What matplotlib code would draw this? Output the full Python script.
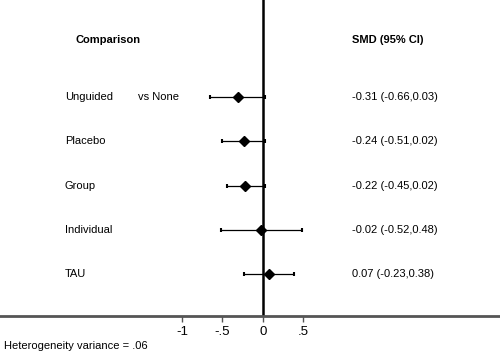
import matplotlib
matplotlib.use("Agg")
import matplotlib.pyplot as plt

comparisons = ["Unguided", "Placebo", "Group", "Individual", "TAU"]
smd = [-0.31, -0.24, -0.22, -0.02, 0.07]
ci_low = [-0.66, -0.51, -0.45, -0.52, -0.23]
ci_high = [0.03, 0.02, 0.02, 0.48, 0.38]
ci_labels = ["-0.31 (-0.66,0.03)", "-0.24 (-0.51,0.02)", "-0.22 (-0.45,0.02)",
             "-0.02 (-0.52,0.48)", "0.07 (-0.23,0.38)"]
xticks = [-1, -0.5, 0, 0.5]
xticklabels = ["-1", "-.5", "0", ".5"]

plt.rcParams['font.family'] = ['Liberation Sans', 'DejaVu Sans']

fig = plt.figure(figsize=(5, 3.55), dpi=100)
ax = fig.add_axes([0, (355 - 316) / 355, 1, 316 / 355])
pxu = 81.0
ax.set_xlim(-263 / pxu, 237 / pxu)
ax.set_ylim(0, 316 / 44.2)

n = len(comparisons)
ys = [0.95 + (n - 1 - i) for i in range(n)]

for y, m, lo, hi in zip(ys, smd, ci_low, ci_high):
    ax.errorbar([m], [y], xerr=[[m - lo], [hi - m]], fmt='D', color='black',
                ms=5, lw=0.9, capsize=1.5, capthick=1.5, elinewidth=0.9, zorder=3)

ax.axvline(0, color='black', lw=1.8, zorder=2)

fs = 8.0
lab_x = (65 - 263) / pxu
vs_x = (138 - 263) / pxu
ci_x = (352 - 263) / pxu
for y, name, lab in zip(ys, comparisons, ci_labels):
    ax.text(lab_x, y, name, fontsize=fs, va='center', ha='left')
    ax.text(ci_x, y, lab, fontsize=fs, va='center', ha='left')
ax.text(vs_x, ys[0], "vs None", fontsize=fs, va='center', ha='left')

header_y = 276 / 44.2
ax.text((76 - 263) / pxu, header_y, "Comparison", fontsize=fs, fontweight='bold', va='center', ha='left')
ax.text(ci_x, header_y, "SMD (95% CI)", fontsize=fs, fontweight='bold', va='center', ha='left')

for s in ['top', 'right', 'left']:
    ax.spines[s].set_visible(False)
ax.spines['bottom'].set_color('#555555')
ax.spines['bottom'].set_linewidth(2)
ax.set_yticks([])
ax.set_xticks(xticks)
ax.set_xticklabels(xticklabels, fontsize=9.5)
ax.tick_params(axis='x', direction='out', length=4, width=1, color='#555555', pad=3)

fig.text(4 / 500, 1 - 346 / 355, "Heterogeneity variance = .06", fontsize=fs, va='center', ha='left')

fig.savefig("out.png", dpi=100)
